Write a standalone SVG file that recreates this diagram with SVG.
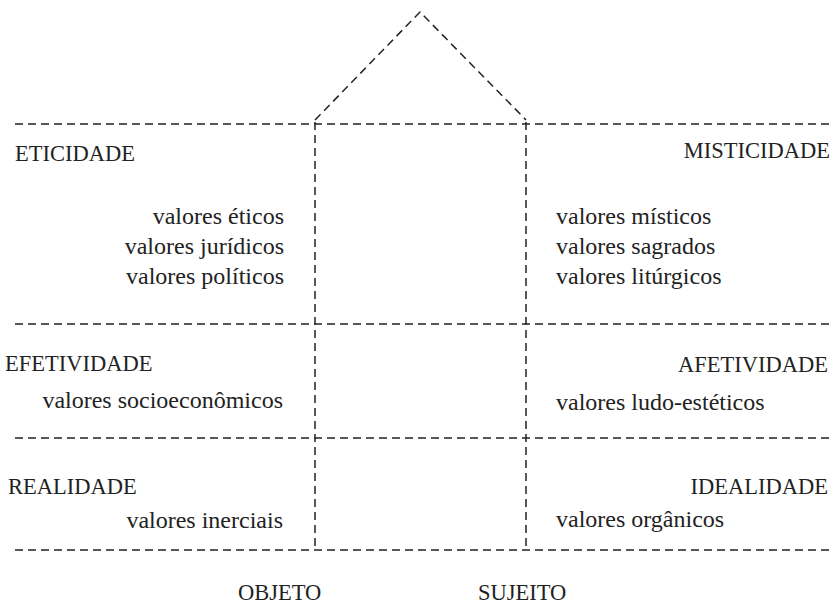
<svg xmlns="http://www.w3.org/2000/svg" width="834" height="610" viewBox="0 0 834 610">
<style>
.ln{fill:none;stroke:#222;stroke-width:1.5;stroke-dasharray:8 5}
.t{font-family:"Liberation Serif","Times New Roman",serif;font-size:24px;fill:#222}
.c{font-family:"Liberation Serif","Times New Roman",serif;font-size:22.5px;fill:#222}
.r{text-anchor:end}
</style>
<rect width="834" height="610" fill="#fff"/>
<g id="connectors">
<path class="ln" d="M315,120 L420,12 L526,120"/>
<path class="ln" d="M15,124 H834"/>
<path class="ln" d="M15,324 H834"/>
<path class="ln" d="M15,438 H834"/>
<path class="ln" d="M15,550 H834"/>
<path class="ln" d="M315,122 V550"/>
<path class="ln" d="M526,122 V550"/>
</g>
<g id="eticidade">
<text class="c" x="15" y="161">ETICIDADE</text>
<text class="t r" x="284" y="224">valores éticos</text>
<text class="t r" x="284" y="254">valores jurídicos</text>
<text class="t r" x="284" y="284">valores políticos</text>
</g>
<g id="misticidade">
<text class="c r" x="830" y="158">MISTICIDADE</text>
<text class="t" x="556" y="224">valores místicos</text>
<text class="t" x="556" y="254">valores sagrados</text>
<text class="t" x="556" y="284">valores litúrgicos</text>
</g>
<g id="efetividade">
<text class="c" x="5" y="371">EFETIVIDADE</text>
<text class="t r" x="283" y="408">valores socioeconômicos</text>
</g>
<g id="afetividade">
<text class="c r" x="828" y="372">AFETIVIDADE</text>
<text class="t" x="556" y="410">valores ludo-estéticos</text>
</g>
<g id="realidade">
<text class="c" x="8" y="494">REALIDADE</text>
<text class="t r" x="283" y="528">valores inerciais</text>
</g>
<g id="idealidade">
<text class="c r" x="828" y="494">IDEALIDADE</text>
<text class="t" x="556" y="527">valores orgânicos</text>
</g>
<g id="objeto"><text class="c" x="238" y="600">OBJETO</text></g>
<g id="sujeito"><text class="c" x="478" y="600">SUJEITO</text></g>
</svg>
